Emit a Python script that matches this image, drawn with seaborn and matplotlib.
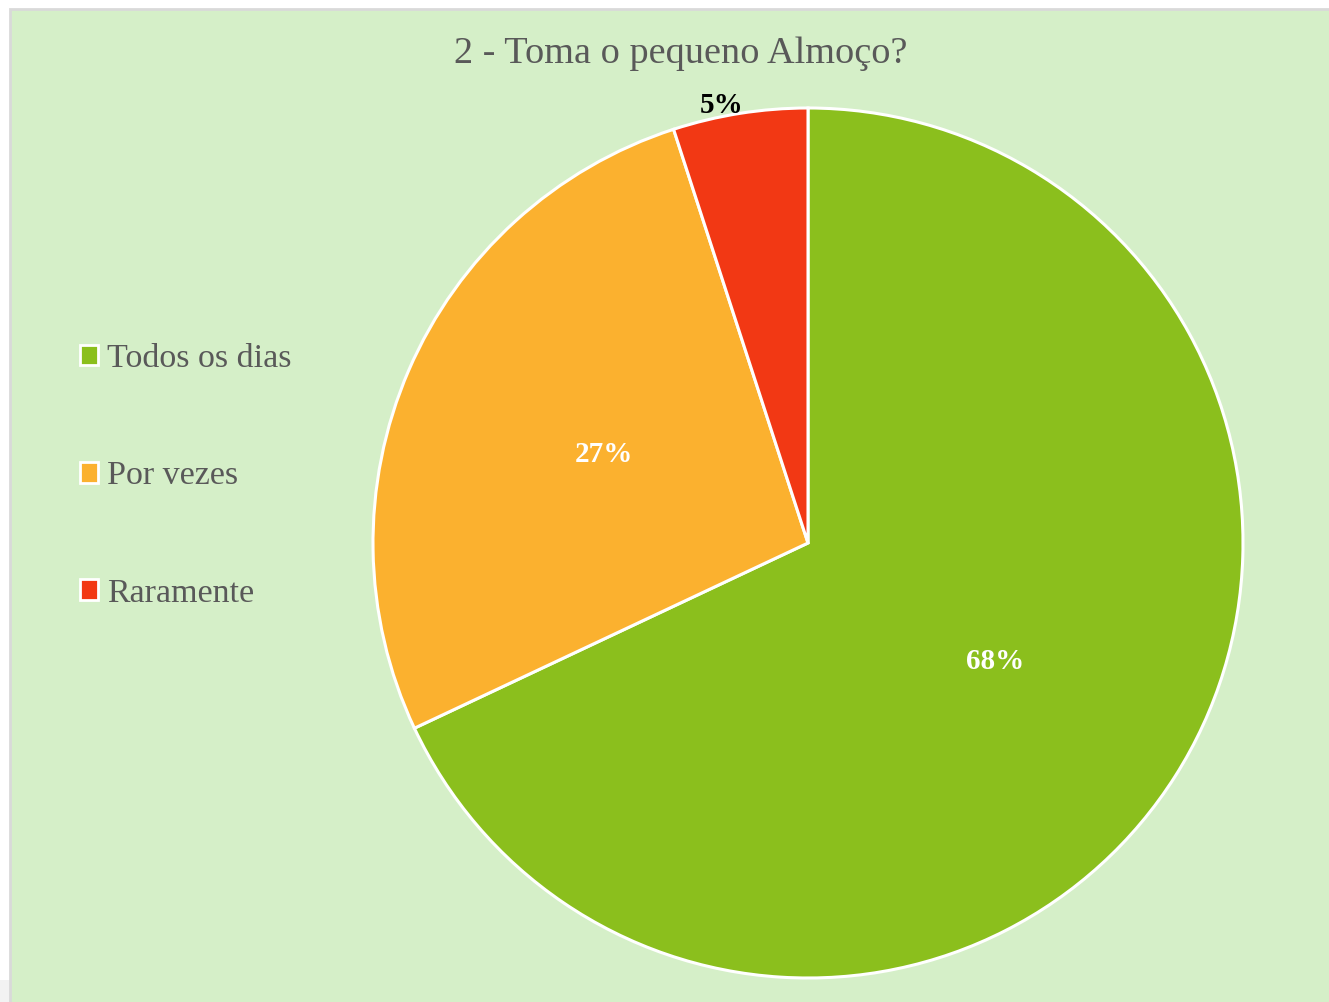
import numpy as np
import matplotlib
matplotlib.use("Agg")
import matplotlib.pyplot as plt
import seaborn as sns
from matplotlib.patches import Rectangle

# Data
categories = ["Todos os dias", "Por vezes", "Raramente"]
values = [68, 27, 5]
colors_hex = ["#8BBF1D", "#FBB12F", "#F23814"]
title_text = "2 - Toma o pequeno Almoço?"

sns.set_theme(style="white")
plt.rcParams["font.family"] = ["Liberation Serif", "DejaVu Serif"]

palette = sns.color_palette(colors_hex)
bg = "#D5EFC8"
text_grey = "#595959"

W, H = 1329, 1002
fig = plt.figure(figsize=(W / 100, H / 100), dpi=100)
fig.patch.set_facecolor("white")

# chart area panel with thin grey border
fig.patches.append(Rectangle((0, 0), 10 / W, 22 / H, transform=fig.transFigure,
                             facecolor="#F2F2F2", edgecolor="none", zorder=-2))
fig.patches.append(Rectangle((10 / W, -0.01), 1.0, (H - 9) / H + 0.01,
                             transform=fig.transFigure, facecolor=bg,
                             edgecolor="#D9D9D9", linewidth=2, zorder=-2))

# pie axes: centre (808, 543), radius 435 px
cx, cy, r = 808, 543, 435
ax = fig.add_axes([(cx - r) / W, (H - cy - r) / H, 2 * r / W, 2 * r / H])
ax.set_facecolor("none")

wedges, texts, autotexts = ax.pie(
    values, colors=palette, startangle=90, counterclock=False,
    radius=1.0, autopct=lambda p: f"{p:.0f}%", pctdistance=0.51,
    wedgeprops=dict(edgecolor="white", linewidth=2.2),
    textprops=dict(fontsize=21, fontweight="bold", color="white"),
)
ax.set_xlim(-1, 1)
ax.set_ylim(-1, 1)
ax.set_aspect("equal")
ax.axis("off")

# small slice label sits just outside the rim
w = wedges[2]
mid = np.deg2rad((w.theta1 + w.theta2) / 2 + 2.0)
autotexts[2].set_position((1.04 * np.cos(mid), 1.025 * np.sin(mid)))
autotexts[2].set_color("black")

fig.text(681 / W, 1 - 54 / H, title_text, ha="center", va="center",
         fontsize=27.5, color=text_grey)

# legend
handles = [Rectangle((0, 0), 1, 1, facecolor=c, edgecolor="white", linewidth=2)
           for c in palette]
leg = fig.legend(handles, categories, loc="upper left",
                 bbox_to_anchor=(49 / W, 1 - 313 / H), frameon=False,
                 fontsize=24.5, labelcolor=text_grey, handlelength=0.55,
                 handleheight=0.55, handletextpad=0.25, labelspacing=2.55)

fig.savefig("out.png", dpi=100, facecolor=fig.get_facecolor())
